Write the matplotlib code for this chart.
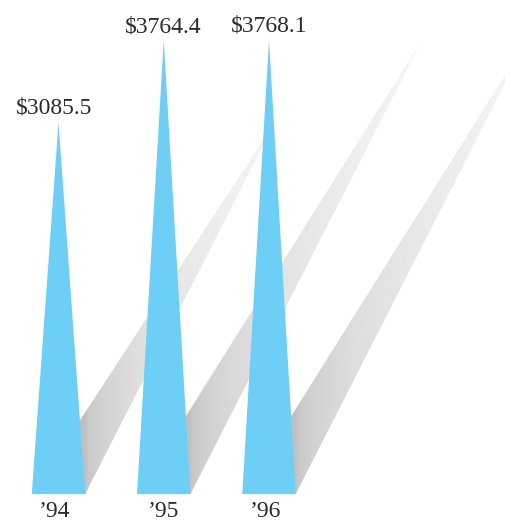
import numpy as np
import matplotlib
matplotlib.use("Agg")
import matplotlib.pyplot as plt
from matplotlib.patches import Polygon

# Data
years = ["\u201994", "\u201995", "\u201996"]
values = [3085.5, 3764.4, 3768.1]
value_labels = ["$3085.5", "$3764.4", "$3768.1"]

# Layout constants (pixel scale of the canvas)
W, H = 506, 525
BASE_PX = 494            # baseline position from top
PX_PER_VALUE = 0.1205    # vertical pixels per dollar unit
PX_PER_SLOT = 105.25     # horizontal pixels between spikes
FIRST_CENTER_PX = 58.5
HALF_BASE = 0.254        # half base width, in slot units
SLANT = 0.51             # shadow horizontal run per unit of rise (pixels)

SPIKE_COLOR = "#6dcff6"
TEXT_COLOR = "#2b2b2b"

fig = plt.figure(figsize=(W / 100, H / 100), dpi=100)
ax = fig.add_axes([0, 0, 1, 1])
ax.set_axis_off()

x_min = -FIRST_CENTER_PX / PX_PER_SLOT
x_max = (W - FIRST_CENTER_PX) / PX_PER_SLOT
y_min = -(H - BASE_PX) / PX_PER_VALUE
y_max = BASE_PX / PX_PER_VALUE

slant_units = SLANT * PX_PER_VALUE / PX_PER_SLOT  # x-units per value unit

for i, v in enumerate(values):
    xl, xr = i - HALF_BASE, i + HALF_BASE
    tip_x = xr + slant_units * v

    # Shadow: long thin triangle cast up and to the right, graded light toward the tip
    shadow = Polygon([(xl, 0), (xr, 0), (tip_x, v)], closed=True,
                     facecolor="none", edgecolor="none")
    ax.add_patch(shadow)
    nx = 400
    xs = np.linspace(xl, tip_x, nx)
    f = np.clip((xs - xr) / (tip_x - xr), 0, 1)
    gray = (192 + 53 * f ** 0.45) / 255.0
    img = np.tile(gray, (2, 1))
    im = ax.imshow(img, cmap="gray", vmin=0, vmax=1, extent=[xl, tip_x, 0, v],
                   aspect="auto", origin="lower", interpolation="bilinear", zorder=1)
    im.set_clip_path(shadow)

for i, v in enumerate(values):
    spike = Polygon([(i - HALF_BASE, 0), (i + HALF_BASE, 0), (i, v)], closed=True,
                    facecolor=SPIKE_COLOR, edgecolor="none", zorder=2)
    ax.add_patch(spike)

    ax.annotate(value_labels[i], xy=(i, v), xytext=(-3 if i == 0 else 0, 6),
                textcoords="offset points", ha="center", va="baseline",
                fontsize=17, family="Liberation Serif", color=TEXT_COLOR, zorder=3)
    ax.annotate(years[i], xy=(i, 0), xytext=(-2.5 if i != 1 else 0, -16.5),
                textcoords="offset points", ha="center", va="baseline",
                fontsize=17, family="Liberation Serif", color=TEXT_COLOR, zorder=3)

ax.set_xlim(x_min, x_max)
ax.set_ylim(y_min, y_max)

fig.savefig("out.png", dpi=100, facecolor="white")
